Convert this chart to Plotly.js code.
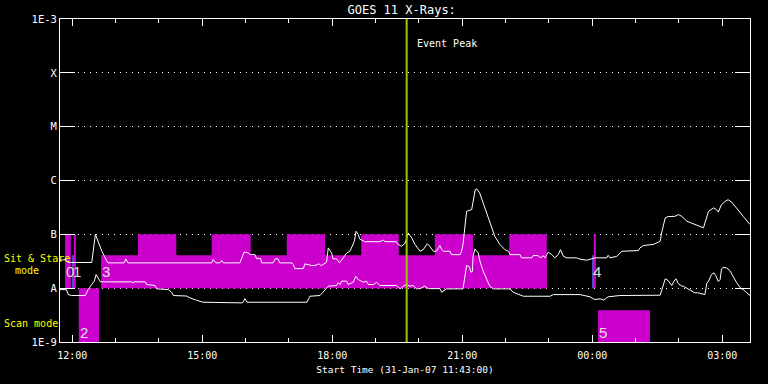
<!DOCTYPE html>
<html><head><meta charset="utf-8">
<script src="https://cdn.plot.ly/plotly-3.0.1.min.js"></script>
<style>html,body{margin:0;padding:0;background:#000;}#chart{width:768px;height:384px;}</style>
</head><body><div id="chart"></div>
<script>
// ---- GOES 11 long channel (1-8 A) ----
const longTime = ['11:43','11:51','11:54','12:27','12:32','12:36','12:41','12:48','12:49:30','13:12','13:14','13:17','15:13','15:15','15:19','15:24:30','15:27','15:29','15:52','15:55','15:58','16:04','16:06','16:13','16:15','16:21','16:22','16:38','16:41','16:45','16:47','17:04','17:06','17:08','17:20','17:22','17:31:30','17:36','17:41','17:45','17:50','17:52','17:54:30','17:59','18:01','18:06','18:10','18:15','18:20','18:24:30','18:28','18:30:30','18:33','18:36','18:38','18:45','19:06','19:10:30','19:13','19:29','19:31','19:36','19:41','19:43','19:45','19:50','19:54:30','20:01:30','20:06','20:11:30','20:15','20:20','20:24','20:27','20:29','20:31:30','20:34','20:43','20:45','20:57','20:59','21:01','21:04','21:06','21:13','21:15','21:18','21:20','21:24','21:29','21:34','21:41','21:45','21:52','21:59','22:04','22:06','22:20','22:22','22:36','22:38','22:45','22:48','22:52','22:54:30','22:57','22:59','23:04','23:08','23:13','23:16','23:20','23:25','23:38','23:43','23:52','23:57','00:04','00:20','00:22','00:24:30','00:34','00:41','01:04','01:06','01:11','01:24:30','01:29','01:34','01:36','01:38','01:41','01:45','01:54:30','01:59','02:04','02:11','02:20','02:34','02:36','02:41','02:48','02:52','02:54:30','02:59','03:04','03:08','03:13','03:20','03:29','03:38:24'];
const longFlux = [3.3e-8,3.4e-8,3.0e-8,3.0e-8,1.0e-7,7.0e-8,4.85e-8,3.16e-8,2.95e-8,2.95e-8,3.5e-8,2.95e-8,2.95e-8,3.4e-8,2.95e-8,2.95e-8,3.26e-8,2.95e-8,2.95e-8,3.7e-8,4.7e-8,4.5e-8,4.2e-8,4.2e-8,3.55e-8,3.55e-8,2.95e-8,2.95e-8,3.5e-8,3.5e-8,2.95e-8,2.95e-8,2.75e-8,2.31e-8,2.31e-8,2.83e-8,2.63e-8,2.63e-8,2.83e-8,2.63e-8,2.86e-8,3.03e-8,5.6e-8,4.5e-8,3.5e-8,3.5e-8,2.95e-8,3.66e-8,4.5e-8,4.85e-8,6.0e-8,7.4e-8,1.14e-7,9.9e-8,8.2e-8,7.3e-8,7.3e-8,7.8e-8,7.3e-8,7.3e-8,6.5e-8,6.0e-8,6.9e-8,8.6e-8,1.06e-7,8.6e-8,6.5e-8,4.85e-8,5.2e-8,6.7e-8,6.0e-8,4.85e-8,4.85e-8,5.6e-8,6.2e-8,5.2e-8,4.85e-8,4.85e-8,4.2e-8,4.2e-8,4.85e-8,6.5e-8,1.63e-7,2.68e-7,2.88e-7,4.4e-7,6.8e-7,7.0e-7,5.9e-7,3.8e-7,2.5e-7,1.41e-7,9.2e-8,6.5e-8,5.2e-8,4.85e-8,4.2e-8,4.2e-8,3.66e-8,3.66e-8,4.03e-8,4.03e-8,3.66e-8,4.0e-8,3.66e-8,4.2e-8,4.65e-8,4.2e-8,3.66e-8,4.2e-8,5.2e-8,3.9e-8,3.66e-8,3.66e-8,3.47e-8,3.3e-8,3.47e-8,3.66e-8,3.66e-8,4.08e-8,3.66e-8,3.9e-8,4.85e-8,4.99e-8,5.6e-8,6.2e-8,6.5e-8,6.9e-8,7.4e-8,1.06e-7,1.41e-7,2.02e-7,2.14e-7,2.16e-7,2.33e-7,2.16e-7,1.75e-7,1.56e-7,1.32e-7,1.63e-7,2.68e-7,3.1e-7,2.88e-7,2.59e-7,3.57e-7,4.1e-7,4.4e-7,3.97e-7,3.0e-7,2.16e-7,1.52e-7];

// ---- GOES 11 short channel (0.5-4 A) ----
const shortTime = ['11:43','11:52','11:54:30','11:59','12:18','12:22','12:27','12:30:30','12:33','12:37','12:39','13:22','13:24','13:25:30','13:41','13:43','13:54:30','13:57','14:13','14:17:30','14:20','14:38','14:43','14:52','15:01','15:52','15:56','15:59','16:02','17:25','17:29','17:43','17:50','17:54:30','18:06','18:08','18:11','18:13','18:20','18:22','18:29','18:32:30','18:36','18:43','18:47:30','18:50','18:57','19:01:30','19:06','19:29','19:34','19:38','19:43','19:47:30','19:52','19:57','20:01:30','20:08','20:13','20:29','20:31:30','20:35','20:38','21:01','21:04','21:06','21:10','21:12','21:14','21:15','21:17:30','21:22','21:24:30','21:29','21:34','21:38','21:43','22:06','22:10:30','22:20','22:24:30','23:01:30','23:06','23:43','23:47:30','23:57','00:01:30','00:04','00:11','00:16','00:22','00:31:30','00:38','01:34','01:36:30','01:41','01:45','01:50','01:54:30','01:56','01:59','02:04','02:06','02:15','02:22','02:26','02:36','02:38:30','02:41','02:45','02:48:30','02:51','02:54:30','02:57','02:59','03:01','03:06','03:10:30','03:15','03:20','03:26','03:29','03:34','03:38:24'];
const shortFlux = [9.4e-9,9.4e-9,7.6e-9,7.3e-9,7.3e-9,9.4e-9,1.17e-8,1.35e-8,1.79e-8,1.49e-8,1.31e-8,1.31e-8,1.26e-8,1.31e-8,1.31e-8,1.17e-8,1.12e-8,9.7e-9,9.4e-9,8.4e-9,7.3e-9,7.15e-9,6.6e-9,5.97e-9,5.48e-9,5.34e-9,5.34e-9,6.4e-9,5.48e-9,5.48e-9,7.08e-9,7.3e-9,9.4e-9,1.09e-8,1.12e-8,1.26e-8,1.17e-8,1.35e-8,1.35e-8,1.17e-8,1.29e-8,1.66e-8,1.44e-8,1.29e-8,1.35e-8,1.17e-8,1.17e-8,1.29e-8,1.12e-8,1.12e-8,9.7e-9,1.09e-8,1.17e-8,1.09e-8,1.12e-8,9.7e-9,9.8e-9,1.09e-8,9.8e-9,9.8e-9,8.4e-9,9.04e-9,9.7e-9,9.7e-9,1.66e-8,2.63e-8,2.49e-8,1.98e-8,2.04e-8,3.9e-8,5.37e-8,4.53e-8,3.16e-8,2.06e-8,1.44e-8,1.09e-8,9.7e-9,9.7e-9,8.4e-9,7.6e-9,7.08e-9,7.08e-9,7.6e-9,7.6e-9,7.3e-9,6.9e-9,6.34e-9,6.15e-9,6.34e-9,6.03e-9,6.9e-9,7.15e-9,7.3e-9,7.4e-9,9.4e-9,1.49e-8,1.39e-8,1.12e-8,1.44e-8,1.49e-8,1.22e-8,1.09e-8,1.09e-8,9.4e-9,8.2e-9,8.2e-9,7.6e-9,1.22e-8,1.35e-8,1.79e-8,1.93e-8,1.71e-8,1.33e-8,1.44e-8,2.28e-8,2.42e-8,2.38e-8,2.12e-8,1.64e-8,1.26e-8,9.8e-9,9.4e-9,8.2e-9,7.3e-9];

// ---- observing blocks ----
const sitLow = 1e-8, sitHigh = 4.1e-8, orbitHigh = 1e-7, scanLow = 1e-9;
const baseStart = ['12:40'], baseEnd = ['22:57'];
const tallStart = ['11:50','12:02','13:31','15:13','16:57','18:40','20:22','22:05','00:02'];
const tallEnd   = ['11:58','12:05','14:24','16:07','17:50','19:32','21:15','22:57','00:05'];
const blueStart = ['12:00','00:00'], blueEnd = ['12:02','00:02'];
const scanStart = ['12:09','00:08'], scanEnd = ['12:37','01:20'], scanTop = [1e-8, 3.9e-9];
const labelText = ['0','1','2','3','4','5'];
const labelTime = ['11:50','12:00','12:09','12:40','00:00','00:08'];
const labelFlux = [2.0e-8,2.0e-8,1.5e-9,2.0e-8,2.0e-8,1.5e-9];
const eventPeak = '19:43';

// ---- axis ticks ----
const xTickLabels = ['12:00','15:00','18:00','21:00','00:00','03:00'];
const yTickVals = [1e-9,1e-8,1e-7,1e-6,1e-5,1e-4,1e-3];
const yTickText = ['1E-9','A','B','C','M','X','1E-3'];

const toDate = s => { const p = s.split(':'); const day = (+p[0] < 11) ? '2007-02-01' : '2007-01-31'; return day + ' ' + p[0] + ':' + p[1] + ':' + (p[2] || '00'); };

const MAG = '#cc00cc', BLUE = '#6a6aff';
const traces = [];
function rect(t0, t1, lo, hi, color) {
  traces.push({type:'scatter', mode:'lines', x:[t0,t1,t1,t0,t0].map(toDate), y:[lo,lo,hi,hi,lo],
    fill:'toself', fillcolor:color, line:{width:0, color:color}, hoverinfo:'skip', showlegend:false});
}
baseStart.forEach((s,i)=>rect(s, baseEnd[i], sitLow, sitHigh, MAG));
tallStart.forEach((s,i)=>rect(s, tallEnd[i], sitLow, orbitHigh, MAG));
blueStart.forEach((s,i)=>rect(s, blueEnd[i], sitLow, sitHigh, BLUE));
scanStart.forEach((s,i)=>rect(s, scanEnd[i], scanLow, scanTop[i], MAG));

traces.push({type:'scatter', mode:'lines', x:longTime.map(toDate), y:longFlux, line:{color:'#fff', width:1}, showlegend:false});
traces.push({type:'scatter', mode:'lines', x:shortTime.map(toDate), y:shortFlux, line:{color:'#fff', width:1}, showlegend:false});
traces.push({type:'scatter', mode:'lines', x:[eventPeak,eventPeak].map(toDate), y:[yTickVals[0], yTickVals[6]], line:{color:'#99cc00', width:2}, showlegend:false});

const annotations = [
  {text:'Event Peak', x:toDate(eventPeak), y:-3.45, xref:'x', yref:'y', xanchor:'left', yanchor:'middle', xshift:8, showarrow:false, font:{size:10, color:'#fff'}},
  {text:'Sit & Stare', x:(1.7-60)/690, y:-7.45, xref:'paper', yref:'y', xanchor:'left', yanchor:'middle', showarrow:false, font:{size:10, color:'#ffff00'}},
  {text:'mode', x:(12.7-60)/690, y:-7.673, xref:'paper', yref:'y', xanchor:'left', yanchor:'middle', showarrow:false, font:{size:10, color:'#ffff00'}},
  {text:'Scan mode', x:(1.7-60)/690, y:-8.657, xref:'paper', yref:'y', xanchor:'left', yanchor:'middle', showarrow:false, font:{size:10, color:'#ffff00'}}
];
labelText.forEach((t,i)=>annotations.push({text:t, x:toDate(labelTime[i]), y:Math.log10(labelFlux[i]), xref:'x', yref:'y',
  xanchor:'left', yanchor:'middle', xshift:-1, showarrow:false, font:{family:'Liberation Sans', size:15, color:'#e0e0e0'}}));

const layout = {
  width:768, height:384, margin:{l:60, r:18, t:19, b:41.5, pad:0},
  paper_bgcolor:'#000', plot_bgcolor:'#000', showlegend:false,
  font:{family:'DejaVu Sans Mono', color:'#fff', size:10},
  title:{text:'GOES 11 X-Rays:', font:{size:12, color:'#fff'}, x:0.523, xanchor:'center', xref:'container', y:0.975, yanchor:'middle', yref:'container'},
  xaxis:{type:'date', range:['2007-01-31 11:43:00','2007-02-01 03:38:24'], tickmode:'array',
    tickvals:xTickLabels.map(toDate), ticktext:xTickLabels, ticks:'inside', ticklen:7, tickwidth:1, tickcolor:'#fff',
    showline:true, linecolor:'#fff', linewidth:1, mirror:'ticks', showgrid:false, zeroline:false,
    tickfont:{size:10, color:'#fff'}, ticklabelstandoff:4,
    minor:{tick0:'2007-01-31 12:00:00', dtick:3600000, ticks:'inside', ticklen:4, tickwidth:1, tickcolor:'#fff', showgrid:false},
    title:{text:'Start Time (31-Jan-07 11:43:00)', font:{size:9.5, color:'#fff'}, standoff:6}},
  yaxis:{type:'log', range:[-9,-3], tickmode:'array', tickvals:yTickVals, ticktext:yTickText,
    ticks:'inside', ticklen:15, tickwidth:1, tickcolor:'#fff', showline:true, linecolor:'#fff', linewidth:1, mirror:'ticks',
    showgrid:true, gridcolor:'#fff', gridwidth:1, griddash:'1px,5px', zeroline:false, tickfont:{size:10.5, color:'#fff'}},
  annotations:annotations
};
Plotly.newPlot('chart', traces, layout, {staticPlot:true, displayModeBar:false});
</script></body></html>
